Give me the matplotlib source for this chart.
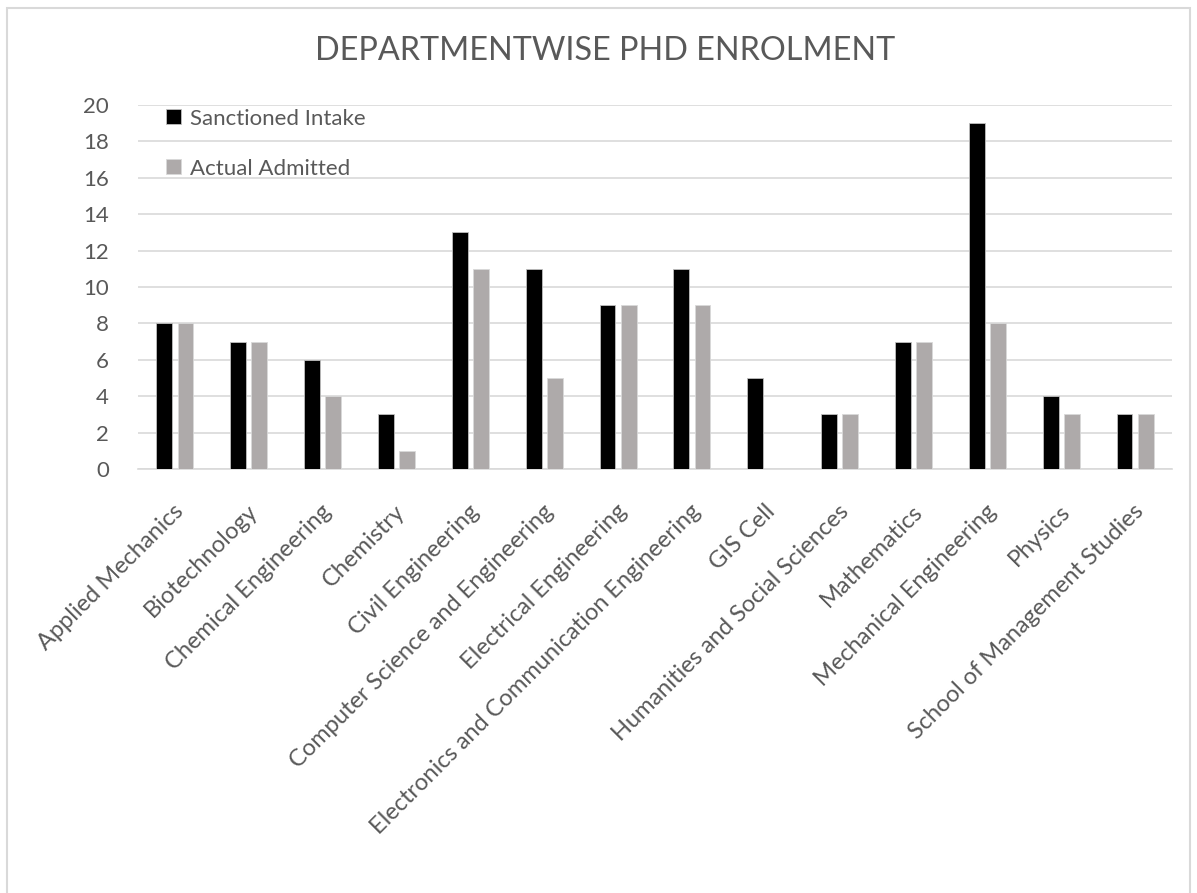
import numpy as np
import matplotlib.pyplot as plt
import matplotlib.transforms as mtransforms
from matplotlib.patches import Rectangle

# Departments and enrolment counts
departments = [
    'Applied Mechanics', 'Biotechnology', 'Chemical Engineering', 'Chemistry',
    'Civil Engineering', 'Computer Science and Engineering', 'Electrical Engineering',
    'Electronics and Communication Engineering', 'GIS Cell',
    'Humanities and Social Sciences', 'Mathematics', 'Mechanical Engineering',
    'Physics', 'School of Management Studies',
]
sanctioned = [8, 7, 6, 3, 13, 11, 9, 11, 5, 3, 7, 19, 4, 3]
admitted = [8, 7, 4, 1, 11, 5, 9, 9, 0, 3, 7, 8, 3, 3]
y_ticks = [0, 2, 4, 6, 8, 10, 12, 14, 16, 18, 20]

TEXT = '#595959'
GRID = '#d9d9d9'
plt.rcParams['font.family'] = ['Lato', 'DejaVu Sans']

fig = plt.figure(figsize=(11.97, 8.93), dpi=100)
fig.patches.append(Rectangle((7 / 1197, -0.01), 1183 / 1197, 1 - 8 / 893 + 0.01,
                             transform=fig.transFigure, fill=False,
                             edgecolor=GRID, linewidth=1.5))

ax = fig.add_axes([138 / 1197, 1 - 469 / 893, 1034 / 1197, 364 / 893])
x = np.arange(len(departments))
w = 0.215
ax.bar(x - 0.143, sanctioned, w, color='black', edgecolor='#bfbfbf',
       linewidth=0.6, label='Sanctioned Intake', zorder=3)
ax.bar(x + 0.143, admitted, w, color='#aeaaaa', edgecolor='#d9d9d9',
       linewidth=0.6, label='Actual Admitted', zorder=3)

ax.set_xlim(-0.5, len(departments) - 0.5)
ax.set_ylim(0, 20)
ax.set_yticks(y_ticks)
ax.yaxis.grid(True, color=GRID, linewidth=1.2, zorder=0)
for s in ['top', 'right', 'left']:
    ax.spines[s].set_visible(False)
ax.spines['bottom'].set_color(GRID)
ax.spines['bottom'].set_linewidth(1.2)
ax.tick_params(axis='both', length=0, colors=TEXT, labelsize=16)
ax.tick_params(axis='y', pad=21)
ax.set_xticks(x)
ax.set_xticklabels(departments, rotation=45, ha='right', rotation_mode='anchor',
                   fontsize=17)
ax.tick_params(axis='x', pad=12)
# push the slanted labels down a bit, like the original
shift = mtransforms.ScaledTranslation(-2 / 100, -15 / 100, fig.dpi_scale_trans)
for lbl in ax.get_xticklabels():
    lbl.set_transform(lbl.get_transform() + shift)

ax.legend(loc='upper left', bbox_to_anchor=(0.008, 1.045), frameon=False,
          fontsize=16, labelcolor=TEXT, handlelength=0.65, handleheight=0.65,
          handletextpad=0.4, labelspacing=1.35)

fig.text(605 / 1197, 1 - 51 / 893, 'DEPARTMENTWISE PHD ENROLMENT', ha='center',
         va='center', fontsize=23.3, color=TEXT)

fig.savefig('out.png', dpi=100)
